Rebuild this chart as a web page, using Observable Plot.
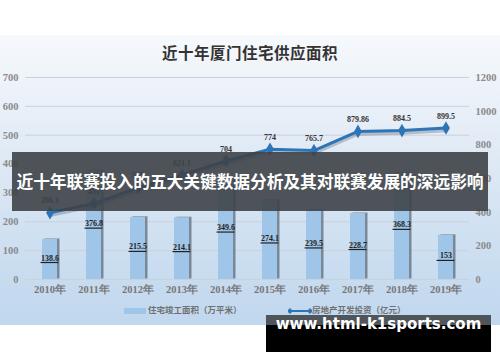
<!DOCTYPE html>
<html>
<head>
<meta charset="utf-8">
<script src="https://cdn.jsdelivr.net/npm/d3@7"></script>
<script src="https://cdn.jsdelivr.net/npm/@observablehq/plot@0.6"></script>
<style>
  html, body { margin: 0; padding: 0; background: #fff; }
  #wrap { position: relative; width: 500px; height: 362px; overflow: hidden; background: #fff; }
  #panel { position: absolute; left: 0; top: 35px; width: 500px; height: 290px;
    background: linear-gradient(to bottom, #f6f9fc 0%, #e3ecf6 35%, #cfe0f1 70%, #c0d7ee 100%); }
  #chart { position: absolute; left: 0; top: 0; }
  #title { position: absolute; left: 0; top: 41px; width: 500px; text-align: center;
    font: bold 15.5px "Noto Sans CJK SC", sans-serif; color: #333; letter-spacing: 0.5px; }
  .leg { position: absolute; top: 303px; font: bold 8.5px "Noto Sans CJK SC", sans-serif; color: #707070; white-space: nowrap; }
  #banner { position: absolute; left: 12px; top: 152px; width: 476px; height: 59px;
    background: rgba(62, 66, 72, 0.9); color: #fff; text-align: center;
    font: bold 16.8px "Noto Sans CJK SC", sans-serif; line-height: 59px; white-space: nowrap; letter-spacing: -0.1px; }
  #wm { position: absolute; left: 266px; top: 315px; width: 225px; height: 37px; background: #000; }
  #wmTop { position: absolute; left: 0; top: 0; width: 225px; height: 10px; background: #50555b; }
  #wmText { position: absolute; left: 0; top: 0; width: 225px; height: 37px; line-height: 40px; text-align: center;
    color: #fff; font: bold 15px "DejaVu Sans", sans-serif; }
</style>
</head>
<body>
<div id="wrap">
  <div id="panel"></div>
  <div id="title">近十年厦门住宅供应面积</div>
  <div id="chart"></div>
  <div class="leg" style="left:124px;"><span style="display:inline-block;width:22px;height:6px;background:#9fc5e8;vertical-align:middle;margin-right:2px;"></span>住宅竣工面积（万平米）</div>
  <div class="leg" style="left:288px;"><svg width="24" height="8" style="vertical-align:middle;"><line x1="2" y1="4" x2="22" y2="4" stroke="#2e75b6" stroke-width="2"/><path d="M2,1 L5,4 L2,7 L-1,4Z M22,1 L25,4 L22,7 L19,4Z" fill="#2e75b6"/></svg>房地产开发投资（亿元）</div>
  <div id="banner">近十年联赛投入的五大关键数据分析及其对联赛发展的深远影响</div>
  <div id="wm"><div id="wmTop"></div><div id="wmText">www.html-k1sports.com</div></div>
</div>
<script>
const years = ["2010年","2011年","2012年","2013年","2014年","2015年","2016年","2017年","2018年","2019年"];
const completedArea = [138.6, 376.8, 215.5, 214.1, 349.6, 274.1, 239.5, 228.7, 368.3, 153];
const investment = [396.1, 451, 545, 621.1, 704, 774, 765.7, 879.86, 884.5, 899.5];
const leftTicks = [0, 100, 200, 300, 400, 500, 600, 700];
const rightTicks = [0, 200, 400, 600, 800, 1000, 1200];

const leftMax = 700, rightMax = 1200;
const toLeft = v => v * leftMax / rightMax;
const data = years.map((y, i) => ({year: y, area: completedArea[i], inv: investment[i]}));

const serif = "Liberation Serif, serif";
const chart = Plot.plot({
  width: 500, height: 362,
  marginLeft: 25, marginRight: 31, marginTop: 77, marginBottom: 83,
  style: {background: "transparent", overflow: "visible"},
  x: {type: "band", domain: years, paddingInner: 0.66, paddingOuter: 0.33},
  y: {domain: [0, leftMax]},
  marks: [
    Plot.gridY(leftTicks, {stroke: "#c9d2dc", strokeOpacity: 1, strokeWidth: 1}),
    Plot.axisY(leftTicks, {anchor: "left", tickSize: 0, tickPadding: 7, fontFamily: serif, fontWeight: "bold", fontSize: 10.5, fill: "#8a8a8a", label: null}),
    Plot.axisY(rightTicks.map(toLeft), {anchor: "right", tickSize: 0, tickPadding: 6, tickFormat: d => String(Math.round(d * rightMax / leftMax)), fontFamily: serif, fontWeight: "bold", fontSize: 10.5, fill: "#8a8a8a", label: null}),
    Plot.axisX({tickSize: 0, tickPadding: 6, fontFamily: serif, fontWeight: "bold", fontSize: 10.5, fill: "#777", label: null}),
    Plot.barY(data, {x: "year", y: "area", fill: "#34414e", fillOpacity: 0.55, dx: 2.5, dy: -0.5}),
    Plot.barY(data, {x: "year", y: "area", fill: "#9fc5e8"}),
    Plot.tickY(data, {x: "year", y: d => d.area / 2, dy: 3, stroke: "#222", strokeWidth: 1.2, insetLeft: -1.5, insetRight: -1.5}),
    Plot.text(data, {x: "year", y: d => d.area / 2, text: d => String(d.area), dy: -1.5, fontFamily: serif, fontWeight: "bold", fontSize: 8, fill: "#222"}),
    Plot.line(data, {x: "year", y: d => toLeft(d.inv), stroke: "#1f3550", strokeOpacity: 0.25, strokeWidth: 3.5, dy: 2.5}),
    Plot.line(data, {x: "year", y: d => toLeft(d.inv), stroke: "#2e75b6", strokeWidth: 3}),
    Plot.dot(data, {x: "year", y: d => toLeft(d.inv), symbol: "diamond", r: 3.2, fill: "#2e75b6", stroke: "#2e75b6"}),
    Plot.text(data, {x: "year", y: d => toLeft(d.inv), text: d => String(d.inv), dy: -12, fontFamily: serif, fontWeight: "bold", fontSize: 8, fill: "#333"})
  ]
});
document.getElementById("chart").appendChild(chart);
</script>
</body>
</html>
